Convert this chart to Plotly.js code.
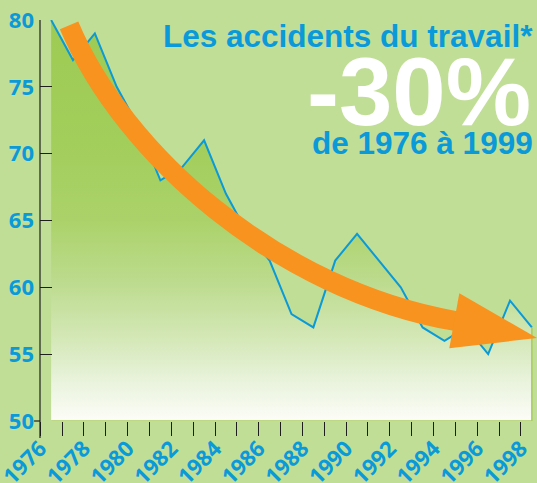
<!DOCTYPE html>
<html>
<head>
<meta charset="utf-8">
<script src="https://cdn.plot.ly/plotly-3.0.1.min.js"></script>
<style>
  html, body { margin: 0; padding: 0; background: #c1de97; }
  #chart { width: 537px; height: 483px; }
</style>
</head>
<body>
<div id="chart"></div>
<script>
// ---- data ----
const years = [1976, 1977, 1978, 1979, 1980, 1981, 1982, 1983, 1984, 1985, 1986, 1987,
               1988, 1989, 1990, 1991, 1992, 1993, 1994, 1995, 1996, 1997, 1998];
const accidents = [80, 77, 79, 75, 72, 68, 69, 71, 67, 64, 62, 58,
                   57, 62, 64, 62, 60, 57, 56, 57, 55, 59, 57];
const tickYears = [1976, 1977, 1978, 1979, 1980, 1981, 1982, 1983, 1984, 1985, 1986, 1987,
                   1988, 1989, 1990, 1991, 1992, 1993, 1994, 1995, 1996, 1997, 1998];
const tickLabels = ['1976', '', '1978', '', '1980', '', '1982', '', '1984', '', '1986', '',
                    '1988', '', '1990', '', '1992', '', '1994', '', '1996', '', '1998'];
const yTicks = [50, 55, 60, 65, 70, 75, 80];
const titleLine1 = 'Les accidents du travail*';
const titleBig = '-30%';
const titleLine2 = 'de 1976 à 1999';

// ---- styling ----
const BG = '#c1de97';
const BLUE = '#0a9ad9';
const ORANGE = '#f7931e';
const AXIS = '#1e1e1e';

const yMin = 50, yMax = 80;
const lastX = years[years.length - 1];

const trace = {
  type: 'scatter',
  mode: 'lines',
  x: years,
  y: accidents,
  line: { color: BLUE, width: 2 },
  fill: 'tozeroy',
  fillgradient: {
    type: 'vertical',
    start: yMin,
    stop: yMax,
    colorscale: [
      [0.0, '#fdfdf8'],
      [0.1, '#e9f3dc'],
      [0.2, '#d5e8b9'],
      [0.35, '#bcdb8d'],
      [0.5, '#abd26a'],
      [0.7, '#a2ce5b'],
      [1.0, '#9dcb53']
    ]
  },
  hoverinfo: 'skip',
  showlegend: false
};

// arrow (decoration) expressed in data units
const arrowBody = 'M 1976.82,79.60 C 1979.30,69.95 1986.37,59.80 1994.50,57.48';
const arrowHead = 'M 1994.68,59.55 L 1998.24,56.21 L 1994.22,55.45 Z';

const layout = {
  width: 537,
  height: 483,
  margin: { l: 40, r: 0, t: 20, b: 62, pad: 0 },
  paper_bgcolor: BG,
  plot_bgcolor: BG,
  showlegend: false,
  xaxis: {
    range: [1975.49, 1998.235],
    tickmode: 'array',
    tickvals: tickYears.map(v => v - 0.5),
    ticktext: tickLabels,
    ticks: 'outside',
    ticklen: 14,
    tickwidth: 1,
    tickcolor: AXIS,
    tickangle: -45,
    ticklabelstandoff: -9,
    ticklabeloverflow: 'allow',
    tickfont: { family: 'Open Sans', size: 22, color: BLUE, weight: 700 },
    showgrid: false,
    zeroline: false,
    showline: false,
    fixedrange: true
  },
  yaxis: {
    range: [yMin, yMax],
    tickmode: 'array',
    tickvals: yTicks,
    ticktext: yTicks.map(String),
    ticks: 'inside',
    ticklen: 12,
    tickwidth: 1,
    tickcolor: AXIS,
    ticklabelstandoff: 5,
    ticklabeloverflow: 'allow',
    tickfont: { family: 'Open Sans', size: 22, color: BLUE, weight: 700 },
    showgrid: false,
    zeroline: false,
    showline: false,
    fixedrange: true
  },
  shapes: [
    // outline of the filled area (bottom and right)
    { type: 'path', xref: 'x', yref: 'y', layer: 'above',
      path: `M ${years[0]},${yMin} L ${lastX},${yMin} L ${lastX},${accidents[accidents.length - 1]}`,
      line: { color: '#a6cc5e', width: 1.5 } },
    // vertical axis line, extended below the plot
    { type: 'line', xref: 'paper', yref: 'paper', x0: 0, x1: 0, y0: 1, y1: -0.0424,
      line: { color: AXIS, width: 1.2 } },
    { type: 'line', xref: 'paper', yref: 'paper', x0: -0.012, x1: 0, y0: 0, y1: 0,
      line: { color: AXIS, width: 1.2 } },
    // orange trend arrow
    { type: 'path', xref: 'x', yref: 'y', layer: 'above', path: arrowBody,
      line: { color: ORANGE, width: 20 }, fillcolor: 'rgba(0,0,0,0)' },
    { type: 'path', xref: 'x', yref: 'y', layer: 'above', path: arrowHead,
      line: { color: ORANGE, width: 0 }, fillcolor: ORANGE }
  ],
  annotations: [
    { text: titleLine1, xref: 'paper', yref: 'paper', x: 0.996, y: 0.960,
      xanchor: 'right', yanchor: 'middle', showarrow: false,
      font: { family: 'Liberation Sans', size: 31.5, color: BLUE, weight: 700 } },
    { text: titleBig, xref: 'paper', yref: 'paper', x: 0.992, y: 0.822,
      xanchor: 'right', yanchor: 'middle', showarrow: false,
      font: { family: 'Liberation Sans', size: 96, color: '#ffffff', weight: 700 } },
    { text: titleLine2, xref: 'paper', yref: 'paper', x: 0.996, y: 0.693,
      xanchor: 'right', yanchor: 'middle', showarrow: false,
      font: { family: 'Liberation Sans', size: 31.5, color: BLUE, weight: 700 } }
  ]
};

Plotly.newPlot('chart', [trace], layout, { staticPlot: true, displayModeBar: false });
</script>
</body>
</html>
